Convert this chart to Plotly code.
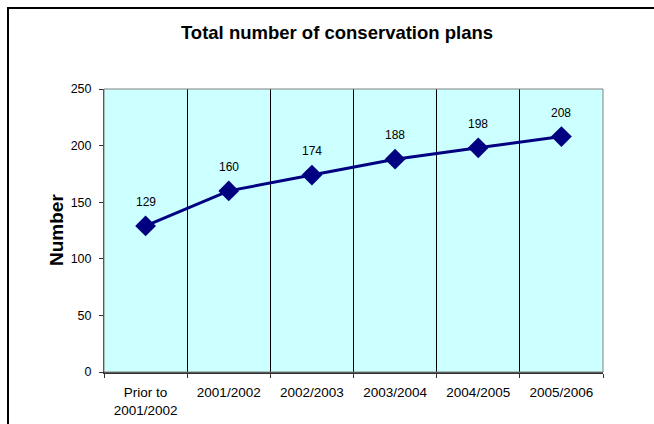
import plotly.graph_objects as go

categories = ["Prior to<br>2001/2002", "2001/2002", "2002/2003", "2003/2004", "2004/2005", "2005/2006"]
values = [129, 160, 174, 188, 198, 208]
y_ticks = [0, 50, 100, 150, 200, 250]

W, H = 654, 424
L, R, T, B = 104, 51, 89, 52
pw, ph = W - L - R, H - T - B

def px_x(p):
    return (p - L) / pw

def px_y(p):
    return (H - B - p) / ph

fig = go.Figure()
fig.add_trace(go.Scatter(
    x=categories, y=values, mode="lines+markers",
    line=dict(color="#000080", width=3),
    marker=dict(symbol="diamond", size=16, color="#000080"),
    hoverinfo="skip", showlegend=False,
))

for c, v in zip(categories, values):
    fig.add_annotation(x=c, y=v, text=str(v), showarrow=False, yshift=24,
                       font=dict(family="Liberation Sans, Arial", size=12, color="#000"))

fig.add_annotation(x=px_x(44), y=0.5, xref="paper", yref="paper", text="<b>Number</b>",
                   textangle=-90, showarrow=False,
                   font=dict(family="Liberation Sans, Arial", size=19, color="#000"))

# outer chart frame
fig.add_shape(type="rect", xref="paper", yref="paper",
              x0=px_x(8), x1=px_x(656), y0=px_y(445), y1=px_y(8),
              line=dict(color="#000", width=2), fillcolor="rgba(0,0,0,0)", layer="below")
# plot area border (top/right gray)
fig.add_shape(type="rect", xref="paper", yref="paper", x0=0, x1=1, y0=0, y1=1,
              line=dict(color="#808080", width=1), fillcolor="rgba(0,0,0,0)", layer="above")

fig.update_layout(
    width=W, height=H,
    margin=dict(l=L, r=R, t=T, b=B, autoexpand=False),
    paper_bgcolor="white", plot_bgcolor="#CCFFFF",
    title=dict(text="<b>Total number of conservation plans</b>", x=337 / W, xref="container",
               y=1 - 33 / H, yref="container", xanchor="center", yanchor="middle",
               font=dict(family="Liberation Sans Narrow, Arial Narrow, Liberation Sans", size=18.5, color="#000")),
    font=dict(family="Liberation Sans, Arial", size=12.5, color="#000"),
    xaxis=dict(type="category", range=[-0.5, 5.5], tickson="boundaries", automargin=False,
               showgrid=True, gridcolor="#000", gridwidth=1,
               ticks="outside", ticklen=4, tickcolor="#333",
               showline=True, linecolor="#333", linewidth=2,
               tickfont=dict(size=13.5), ticklabelstandoff=7, fixedrange=True),
    yaxis=dict(range=[0, 250], tickvals=y_ticks, showgrid=False, zeroline=False, automargin=False,
               ticks="outside", ticklen=4, tickcolor="#333",
               showline=True, linecolor="#333", linewidth=1,
               tickfont=dict(size=12.5), ticklabelstandoff=5, fixedrange=True),
)

fig.write_html("out.html")
